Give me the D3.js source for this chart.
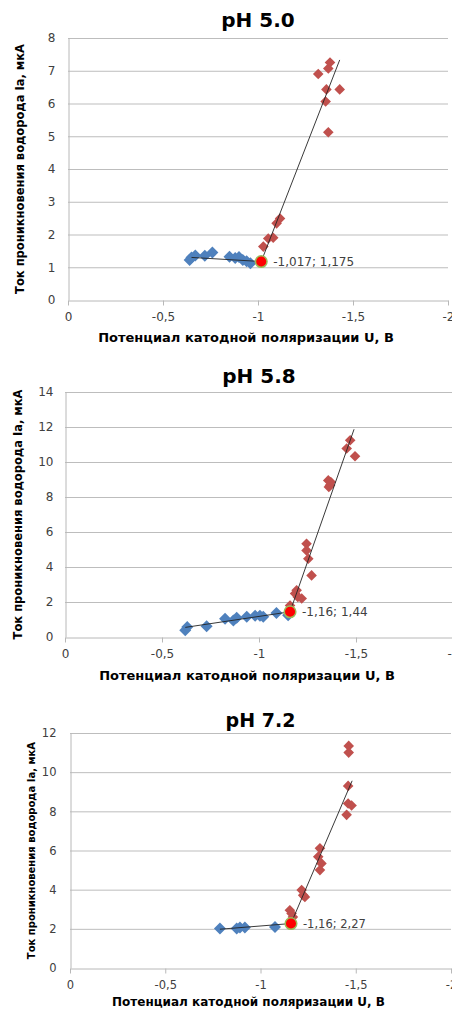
<!DOCTYPE html>
<html>
<head>
<meta charset="utf-8">
<script src="https://cdn.jsdelivr.net/npm/d3@7"></script>
<style>
  body { margin: 0; background: #fff; }
  svg { display: block; }
  .grid line { stroke: #bdbdbd; stroke-width: 1; }
</style>
</head>
<body>
<div id="chart"></div>
<script>
// tick labels
var xTicks = [0, -0.5, -1, -1.5, -2];
var yTicks50 = [0, 1, 2, 3, 4, 5, 6, 7, 8];
var yTicks58 = [0, 2, 4, 6, 8, 10, 12, 14];
var yTicks72 = [0, 2, 4, 6, 8, 10, 12];

var titles = ["pH 5.0", "pH 5.8", "pH 7.2"];
var xLabel = "Потенциал катодной поляризации U, В";
var yLabels = ["Ток проникновения водорода  Ia, мкА", "Ток проникновения водорода  Ia, мкА", "Ток проникновения водорода Ia, мкА"];

// pH 5.0
var blue50 = [[-0.64, 1.22], [-0.65, 1.30], [-0.67, 1.36], [-0.72, 1.35], [-0.76, 1.45], [-0.85, 1.32],
              [-0.88, 1.28], [-0.90, 1.31], [-0.92, 1.22], [-0.94, 1.18], [-0.96, 1.12]];
var red50 = [[-1.028, 1.63], [-1.054, 1.88], [-1.08, 1.90], [-1.098, 2.34], [-1.116, 2.49], [-1.317, 6.90],
             [-1.37, 7.07], [-1.379, 7.25], [-1.36, 6.43], [-1.43, 6.43], [-1.356, 6.06], [-1.37, 5.12]];
var trend50 = [[[-0.65, 1.30], [-1.017, 1.175]], [[-1.017, 1.175], [-1.43, 7.33]]];
var cross50 = [-1.017, 1.175];

// pH 5.8
var blue58 = [[-0.62, 0.38], [-0.63, 0.57], [-0.73, 0.61], [-0.825, 1.05], [-0.868, 0.95], [-0.885, 1.10],
              [-0.937, 1.16], [-0.98, 1.22], [-1.005, 1.22], [-1.022, 1.16], [-1.09, 1.37], [-1.15, 1.25]];
var red58 = [[-1.16, 1.80], [-1.186, 2.48], [-1.194, 2.67], [-1.20, 2.29], [-1.22, 2.20], [-1.245, 5.33],
             [-1.245, 4.95], [-1.254, 4.47], [-1.271, 3.52], [-1.357, 8.95], [-1.366, 8.67], [-1.36, 8.57],
             [-1.37, 8.86], [-1.452, 10.77], [-1.47, 11.24], [-1.495, 10.33]];
var trend58 = [[[-0.62, 0.55], [-1.16, 1.44]], [[-1.16, 1.44], [-1.49, 11.87]]];
var cross58 = [-1.16, 1.44];

// pH 7.2
var blue72 = [[-0.787, 2.02], [-0.875, 2.02], [-0.892, 2.07], [-0.918, 2.07], [-1.076, 2.10]];
var red72 = [[-1.154, 2.95], [-1.163, 2.78], [-1.17, 2.60], [-1.216, 3.98], [-1.224, 3.72], [-1.233, 3.63],
             [-1.312, 6.11], [-1.303, 5.68], [-1.32, 5.34], [-1.312, 5.00], [-1.452, 7.82], [-1.46, 8.40],
             [-1.478, 8.30], [-1.46, 9.30], [-1.463, 11.00], [-1.463, 11.34]];
var trend72 = [[[-0.787, 1.98], [-1.16, 2.27]], [[-1.16, 2.27], [-1.481, 9.56]]];
var cross72 = [-1.16, 2.27];

var W = 452, H = 1011;
var svg = d3.select("#chart").append("svg").attr("width", W).attr("height", H);

var font = "DejaVu Sans, Verdana, sans-serif";

var panels = [
  {left: 68, right: 448, top: 38, bottom: 300, yMax: 8, yTicks: yTicks50, blue: blue50, red: red50, trend: trend50, cross: cross50,
   titleY: 27, titleSize: 20, yLabX: 20, yLabSize: 11.5, xLabY: 342, xLabSize: 13, tickSize: 12, pad: 13},
  {left: 65, right: 453, top: 392, bottom: 637, yMax: 14, yTicks: yTicks58, blue: blue58, red: red58, trend: trend58, cross: cross58,
   titleY: 383, titleSize: 20, yLabX: 18, yLabSize: 11.5, xLabY: 680, xLabSize: 13, tickSize: 12, pad: 12},
  {left: 70, right: 451, top: 733, bottom: 968, yMax: 12, yTicks: yTicks72, blue: blue72, red: red72, trend: trend72, cross: cross72,
   titleY: 727, titleSize: 19, yLabX: 31, yLabSize: 10, xLabY: 1006, xLabSize: 12, tickSize: 11.5, pad: 14}
];

// rotated square = diamond
function diamond(r) {
  return "M0," + (-r) + "L" + r + ",0L0," + r + "L" + (-r) + ",0Z";
}

panels.forEach(function(p, i) {
  var x = d3.scaleLinear().domain([0, -2]).range([p.left, p.right]);
  var y = d3.scaleLinear().domain([0, p.yMax]).range([p.bottom, p.top]);
  var g = svg.append("g");

  // gridlines
  g.append("g").attr("class", "grid")
    .selectAll("line").data(p.yTicks.slice(1)).enter().append("line")
    .attr("x1", p.left).attr("x2", p.right)
    .attr("y1", function(d) { return y(d) + 0.5; })
    .attr("y2", function(d) { return y(d) + 0.5; });

  // axes
  var xa = g.append("g")
    .attr("transform", "translate(0," + (p.bottom + 0.5) + ")")
    .call(d3.axisBottom(x).tickValues(xTicks).tickSize(5).tickSizeOuter(0)
      .tickFormat(function(d) { return String(d).replace(".", ","); }));
  var ya = g.append("g")
    .attr("transform", "translate(" + (p.left + 0.5) + ",0)")
    .call(d3.axisLeft(y).tickValues(p.yTicks).tickSize(0).tickPadding(p.pad).tickSizeOuter(0));
  [xa, ya].forEach(function(a) {
    a.selectAll("path, line").attr("stroke", "#b8b8b8");
    a.selectAll("text").style("font-family", font).style("font-size", p.tickSize + "px").attr("fill", "#404040");
  });
  xa.selectAll("text").attr("dy", "1.05em");

  // points
  g.selectAll(".b").data(p.blue).enter().append("path")
    .attr("d", diamond(6)).attr("fill", "#4F81BD")
    .attr("transform", function(d) { return "translate(" + x(d[0]) + "," + y(d[1]) + ")"; });
  g.selectAll(".r").data(p.red).enter().append("path")
    .attr("d", diamond(5.3)).attr("fill", "#C0504D")
    .attr("transform", function(d) { return "translate(" + x(d[0]) + "," + y(d[1]) + ")"; });

  // trend lines
  var line = d3.line().x(function(d) { return x(d[0]); }).y(function(d) { return y(d[1]); });
  p.trend.forEach(function(seg) {
    g.append("path").datum(seg).attr("d", line)
      .attr("fill", "none").attr("stroke", "#222").attr("stroke-width", 0.9);
  });

  // intersection point
  g.append("circle")
    .attr("cx", x(p.cross[0])).attr("cy", y(p.cross[1])).attr("r", 5.8)
    .attr("fill", "#ff0000").attr("stroke", "#9BBB59").attr("stroke-width", 1.5);
  g.append("text")
    .attr("x", x(p.cross[0]) + 12).attr("y", y(p.cross[1]))
    .attr("dy", "0.35em")
    .style("font-family", font).style("font-size", p.tickSize + "px").attr("fill", "#404040")
    .text(String(p.cross[0]).replace(".", ",") + "; " + String(p.cross[1]).replace(".", ","));

  // title
  g.append("text")
    .attr("x", (p.left + p.right) / 2).attr("y", p.titleY)
    .attr("text-anchor", "middle")
    .style("font-family", font).style("font-weight", "bold").style("font-size", p.titleSize + "px")
    .text(titles[i]);

  // x axis label
  g.append("text")
    .attr("x", (p.left + p.right) / 2 - 12).attr("y", p.xLabY)
    .attr("text-anchor", "middle")
    .style("font-family", font).style("font-weight", "bold").style("font-size", p.xLabSize + "px")
    .text(xLabel);

  // y axis label
  g.append("text")
    .attr("transform", "translate(" + p.yLabX + "," + ((p.top + p.bottom) / 2) + ") rotate(-90)")
    .attr("text-anchor", "middle")
    .attr("dy", "0.35em")
    .style("font-family", font).style("font-weight", "bold").style("font-size", p.yLabSize + "px")
    .text(yLabels[i]);
});
</script>
</body>
</html>
